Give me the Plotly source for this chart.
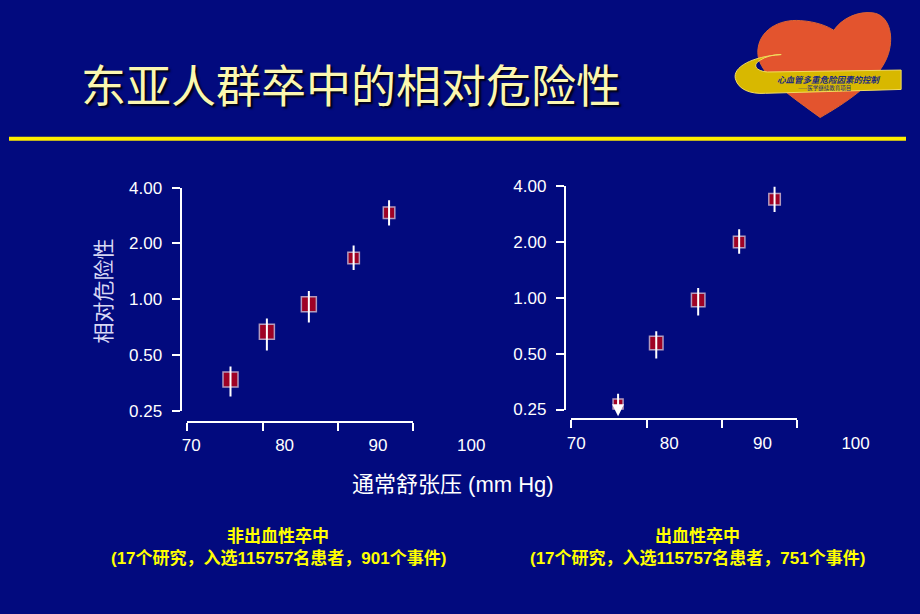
import numpy as np
import plotly.graph_objects as go

# ---------------- data ----------------
dbp_nonhem = [74.2, 78.1, 82.6, 87.4, 91.2]
rr_nonhem = [0.37, 0.67, 0.94, 1.67, 2.93]
lo_nonhem = [0.30, 0.53, 0.75, 1.44, 2.50]
hi_nonhem = [0.435, 0.79, 1.11, 1.95, 3.42]

dbp_hem = [74.5, 78.6, 83.1, 87.5, 91.3]
rr_hem = [0.268, 0.57, 0.97, 1.99, 3.38]
lo_hem = [0.23, 0.47, 0.80, 1.72, 2.89]
hi_hem = [0.31, 0.66, 1.125, 2.33, 3.95]

y_tickvals = [0.25, 0.5, 1, 2, 4]
y_ticktext = ["0.25", "0.50", "1.00", "2.00", "4.00"]
x_tickvals = [70, 80, 90, 100]
x_ticktext = ["70", "80", "90", "100"]

title_text = "东亚人群卒中的相对危险性"
ytitle_text = "相对危险性"
xtitle_text = "通常舒张压 (mm Hg)"
cap_left = ["非出血性卒中", "(17个研究，入选115757名患者，901个事件)"]
cap_right = ["出血性卒中", "(17个研究，入选115757名患者，751个事件)"]

# ---------------- styles ----------------
W, H = 920, 614
BG = "#020a7e"
WHITE = "#ffffff"
BOX_FILL = "#e00000"
BOX_LINE = "#ffd8d8"
sizes_left = [15, 15, 15, 11.5, 11.5]
sizes_right = [10, 13.5, 13.5, 11.5, 11.5]
LAT = "Liberation Sans, Arial, Noto Sans CJK SC, sans-serif"
CJK = "Noto Sans CJK SC, sans-serif"


def fx(p):
    return p / W


def fy(p):
    return 1 - p / H


panels = [
    dict(x=dbp_nonhem, rr=rr_nonhem, lo=lo_nonhem, hi=hi_nonhem, sizes=sizes_left,
         xa="x", ya="y", xd="x3", yax_x=176, ytop=184.3, ybot=415, x70=187, x100=474,
         xl0=183, xl1=414, xly=426),
    dict(x=dbp_hem, rr=rr_hem, lo=lo_hem, hi=hi_hem, sizes=sizes_right,
         xa="x2", ya="y2", xd="x4", yax_x=570, ytop=182.3, ybot=413.3, x70=581.7, x100=868.3,
         xl0=576.7, xl1=808.3, xly=423.3),
]

fig = go.Figure()
annotations = []
ymin = min(y_tickvals)

for p in panels:
    # boxes
    fig.add_trace(go.Scatter(
        x=p["x"], y=p["rr"], mode="markers", xaxis=p["xa"], yaxis=p["ya"],
        marker=dict(symbol="square", size=p["sizes"], color=BOX_FILL,
                    line=dict(color=BOX_LINE, width=1.5)),
        showlegend=False, hoverinfo="skip", cliponaxis=False))
    # confidence interval lines (on top of boxes)
    lx, ly = [], []
    for xi, l, h in zip(p["x"], p["lo"], p["hi"]):
        if l >= ymin:
            lx += [xi, xi, None]
            ly += [l, h, None]
        else:
            annotations.append(dict(
                x=xi, y=np.log10(l), ax=xi, ay=np.log10(h),
                xref=p["xa"], yref=p["ya"], axref=p["xa"], ayref=p["ya"],
                text="", showarrow=True, arrowhead=2, arrowsize=1.2,
                arrowwidth=2, arrowcolor=WHITE, standoff=0, startstandoff=0))
    fig.add_trace(go.Scatter(
        x=lx, y=ly, mode="lines", xaxis=p["xa"], yaxis=p["ya"],
        line=dict(color=WHITE, width=2), showlegend=False, hoverinfo="skip",
        cliponaxis=False))
    # dummy trace so the decorative tick axis is drawn
    fig.add_trace(go.Scatter(x=[None], y=[None], xaxis=p["xd"], yaxis=p["ya"],
                             showlegend=False, hoverinfo="skip"))

axis_common = dict(showgrid=False, zeroline=False, fixedrange=True)

layout_axes = {}
for i, p in enumerate(panels):
    xa_name = "xaxis" if p["xa"] == "x" else "xaxis" + p["xa"][1:]
    ya_name = "yaxis" if p["ya"] == "y" else "yaxis" + p["ya"][1:]
    xd_name = "xaxis" + p["xd"][1:]
    layout_axes[xa_name] = dict(
        axis_common, domain=[fx(p["x70"]), fx(p["x100"])], range=[70, 100],
        tickvals=x_tickvals, ticktext=x_ticktext, showline=False,
        ticks="outside", ticklen=8, tickcolor="rgba(0,0,0,0)",
        anchor="free", position=fy(p["xly"]),
        tickfont=dict(family=LAT, size=17, color=WHITE))
    layout_axes[ya_name] = dict(
        axis_common, type="log", domain=[fy(p["ybot"]), fy(p["ytop"])],
        range=[np.log10(0.25), np.log10(4)], tickvals=y_tickvals, ticktext=y_ticktext,
        showline=True, linecolor=WHITE, linewidth=2, ticks="outside", ticklen=8,
        tickwidth=2, tickcolor=WHITE, anchor="free", position=fx(p["yax_x"]),
        ticklabelstandoff=6,
        tickfont=dict(family=LAT, size=17, color=WHITE))
    layout_axes[xd_name] = dict(
        axis_common, domain=[fx(p["xl0"]), fx(p["xl1"])], range=[0, 3],
        tickvals=[0, 1, 2, 3], showticklabels=False, showline=True,
        linecolor=WHITE, linewidth=2, ticks="outside", ticklen=8, tickwidth=2,
        tickcolor=WHITE, anchor="free", position=fy(p["xly"]))

# ---- texts ----
annotations += [
    dict(text=title_text, x=fx(72), y=fy(77), xref="paper", yref="paper",
         xanchor="left", yanchor="middle", showarrow=False,
         font=dict(family=CJK, size=45, color="#fbf7b0", shadow="2px 2px 2px #000010")),
    dict(text=ytitle_text, x=fx(95), y=fy(291), xref="paper", yref="paper",
         textangle=-90, xanchor="center", yanchor="middle", showarrow=False,
         font=dict(family=CJK, size=21, color="#d8d8f4")),
    dict(text=xtitle_text, x=fx(455), y=fy(491), xref="paper", yref="paper",
         xanchor="center", yanchor="middle", showarrow=False,
         font=dict(family=LAT, size=22, color=WHITE)),
]
for cx, cap in [(276, cap_left), (706, cap_right)]:
    for k, (t, yy) in enumerate(zip(cap, [544, 567])):
        annotations.append(dict(
            text="<b>" + t + "</b>", x=fx(cx), y=fy(yy), xref="paper", yref="paper",
            xanchor="center", yanchor="middle", showarrow=False,
            font=dict(family=LAT, size=17, color="#ffff00")))

# ---- logo ----
def pth(cmds):
    out = []
    for c in cmds:
        if isinstance(c, str):
            out.append(c)
        else:
            out.append("%.5f,%.5f" % (fx(c[0]), fy(c[1])))
    return " ".join(out)


heart = pth(["M", (832, 112), "C", (805, 92), (768, 68), (768, 45),
             "C", (768, 22), (790, 10), (812, 12),
             "C", (828, 13), (840, 18), (846, 22),
             "C", (854, 10), (870, 2), (886, 4),
             "C", (902, 6), (908, 26), (902, 46),
             "C", (893, 75), (856, 98), (832, 112), "Z"])
banner = pth(["M", (792, 47), "C", (762, 49), (742, 60), (745, 72),
              "C", (748, 83), (760, 88), (776, 87),
              "L", (915, 83), "L", (915, 63), "L", (778, 65),
              "C", (766, 64), (762, 58), (770, 53),
              "C", (776, 49), (784, 47), (792, 47), "Z"])

shapes = [
    dict(type="line", xref="paper", yref="paper", x0=0, x1=1, y0=fy(134), y1=fy(134),
         line=dict(color="#ffee00", width=4)),
    dict(type="path", xref="paper", yref="paper", path=heart,
         fillcolor="#f0582a", line=dict(color="#e86a30", width=1), opacity=0.95),
    dict(type="path", xref="paper", yref="paper", path=banner,
         fillcolor="#d8b800", line=dict(color="#f2dc60", width=1)),
]
annotations += [
    dict(text="<b><i>心血管多重危险因素的控制</i></b>", x=fx(841), y=fy(72.5),
         xref="paper", yref="paper", showarrow=False, xanchor="center", yanchor="middle",
         font=dict(family=CJK, size=8.5, color="#1a2a80")),
    dict(text="——医学继续教育项目", x=fx(836), y=fy(81.5), xref="paper", yref="paper",
         showarrow=False, xanchor="center", yanchor="middle",
         font=dict(family=CJK, size=5.5, color="#1a2a80")),
]

fig.update_layout(
    width=W, height=H, margin=dict(l=0, r=0, t=0, b=0),
    paper_bgcolor=BG, plot_bgcolor="rgba(0,0,0,0)",
    showlegend=False, annotations=annotations, shapes=shapes,
    **layout_axes)

fig.write_html(
    "out.html", config={"displayModeBar": False},
    post_script="document.body.style.margin='0';document.body.style.padding='0';"
                "document.body.style.background='%s';" % BG)
